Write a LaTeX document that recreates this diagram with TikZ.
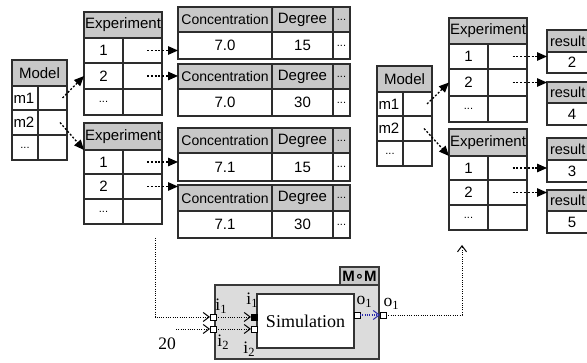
\documentclass[tikz,border=0pt]{standalone}
\usepackage{fontspec}
\setmainfont{Liberation Serif}
\newfontfamily\tsans{Liberation Sans}
\newfontfamily\dvs{DejaVu Sans}
\usetikzlibrary{arrows.meta}
\definecolor{hdr}{RGB}{200,200,200}
\definecolor{lineC}{RGB}{45,45,45}
\definecolor{momfill}{RGB}{220,220,220}
\definecolor{portblue}{RGB}{40,40,170}
\newcommand\Rect[7]{\node[#6, minimum width={#4pt-#2pt}, minimum height={#5pt-#3pt}] (#1) at (#2,#3) {#7};}
\newcommand\sbs[2]{#1\raisebox{-0.35ex}{\fontsize{12.5}{12.5}\selectfont #2}}
\begin{document}
\begin{tikzpicture}[x=1pt,y=-1pt,
  box/.style={anchor=north west, inner sep=0pt, outer sep=0pt},
  cell/.style={box, draw=lineC, line width=1.1pt, fill=white, font=\tsans\fontsize{15}{15}\selectfont},
  hd/.style={fill=hdr},
  lt/.style={text width=23pt, align=left},
  rt/.style={text width=44pt, align=left, font=\tsans\fontsize{14.5}{15}\selectfont},
  darr/.style={draw=black, line width=1.3pt, dash pattern=on 2pt off 1.8pt, -{Triangle[length=10pt,width=8.5pt]}},
  oarr/.style={draw=black, line width=0.9pt, dash pattern=on 1pt off 1.3pt, -{Straight Barb[length=6pt,width=9pt,line width=1pt]}},
  port/.style={draw=black, fill=white, line width=0.8pt, minimum size=6pt, inner sep=0pt, outer sep=0pt},
  lbl/.style={font=\fontsize{17.5}{17.5}\selectfont, inner sep=0pt},
]
\clip (0,0) rectangle (587,363);
\fill[white] (0,0) rectangle (587,363);

% ---- left model table
\Rect{LMh}{12}{60}{67}{86}{cell,hd}{Model}
\Rect{LM1a}{12}{86}{38}{110}{cell,lt}{m1}
\Rect{LM1b}{38}{86}{67}{110}{cell}{}
\Rect{LM2a}{12}{110}{38}{135}{cell,lt}{m2}
\Rect{LM2b}{38}{110}{67}{135}{cell}{}
\Rect{LM3a}{12}{135}{38}{160}{cell,font=\tsans\fontsize{11}{11}\selectfont}{...}
\Rect{LM3b}{38}{135}{67}{160}{cell}{}

% ---- right model table
\Rect{RMh}{377}{66}{432}{92}{cell,hd}{Model}
\Rect{RM1a}{377}{92}{403}{116}{cell,lt}{m1}
\Rect{RM1b}{403}{92}{432}{116}{cell}{}
\Rect{RM2a}{377}{116}{403}{141}{cell,lt}{m2}
\Rect{RM2b}{403}{116}{432}{141}{cell}{}
\Rect{RM3a}{377}{141}{403}{166}{cell,font=\tsans\fontsize{11}{11}\selectfont}{...}
\Rect{RM3b}{403}{141}{432}{166}{cell}{}

% ---- experiment tables
\foreach \nm/\xa/\xb/\xc/\ya/\yb/\yc/\yd/\ye in
  {E1/84/123/162/12/38/63/89/115, E2/84/123/162/123/150/174/199/224,
   RE1/449/488/527/18/44/69/96/122, RE2/449/488/527/129/156/180/205/230}{
  \Rect{\nm h}{\xa}{\ya}{\xc}{\yb}{cell,hd}{Experiment}
  \Rect{\nm r1a}{\xa}{\yb}{\xb}{\yc}{cell}{1}
  \Rect{\nm r1b}{\xb}{\yb}{\xc}{\yc}{cell}{}
  \Rect{\nm r2a}{\xa}{\yc}{\xb}{\yd}{cell}{2}
  \Rect{\nm r2b}{\xb}{\yc}{\xc}{\yd}{cell}{}
  \Rect{\nm r3a}{\xa}{\yd}{\xb}{\ye}{cell,font=\tsans\fontsize{11}{11}\selectfont}{...}
  \Rect{\nm r3b}{\xb}{\yd}{\xc}{\ye}{cell}{}
}

% ---- concentration tables
\foreach \n/\ya/\yb/\yc/\cv/\dv in
  {1/7/32/59/7.0/15, 2/64/89/116/7.0/30, 3/128/153/181/7.1/15, 4/185/211/238/7.1/30}{
  \Rect{C\n ha}{178}{\ya}{272}{\yb}{cell,hd,font=\tsans\fontsize{14}{14}\selectfont}{Concentration}
  \Rect{C\n hb}{272}{\ya}{333}{\yb}{cell,hd}{Degree}
  \Rect{C\n hc}{333}{\ya}{350}{\yb}{cell,hd,font=\tsans\fontsize{11}{11}\selectfont}{...}
  \Rect{C\n va}{178}{\yb}{272}{\yc}{cell}{\cv}
  \Rect{C\n vb}{272}{\yb}{333}{\yc}{cell}{\dv}
  \Rect{C\n vc}{333}{\yb}{350}{\yc}{cell,font=\tsans\fontsize{11}{11}\selectfont}{...}
}

% ---- result tables
\foreach \n/\ya/\yb/\yc/\rv in {1/30/52/73/2, 2/82/103/125/4, 3/138/160/182/3, 4/190/211/233/5}{
  \Rect{R\n h}{547}{\ya}{597}{\yb}{cell,hd,rt}{result}
  \Rect{R\n v}{547}{\yb}{597}{\yc}{cell}{\rv}
}

% ---- model -> experiment arrows
\draw[darr] ([xshift=10pt]LM1b.center) -- (E1r2a.west);
\draw[darr] ([xshift=7.5pt]LM2b.center) -- (E2h.south west);
\draw[darr] ([xshift=9.5pt]RM1b.center) -- (RE1r2a.west);
\draw[darr] ([xshift=6.5pt]RM2b.center) -- (RE2h.south west);

% ---- experiment -> concentration / result arrows
\draw[darr] ([xshift=4.5pt]E1r1b.center) -- (E1r1b.center -| C1va.west);
\draw[darr] ([xshift=4.5pt]E1r2b.center) -- (E1r2b.center -| C2ha.west);
\draw[darr] ([xshift=4.5pt]E2r1b.center) -- (E2r1b.center -| C3va.west);
\draw[darr] ([xshift=4.5pt]E2r2b.center) -- (E2r2b.center -| C4ha.west);
\draw[darr] ([xshift=5pt]RE1r1b.center) -- (RE1r1b.center -| R1h.west);
\draw[darr] ([xshift=5pt]RE1r2b.center) -- (RE1r2b.center -| R2h.west);
\draw[darr] ([xshift=5pt]RE2r1b.center) -- (RE2r1b.center -| R3h.west);
\draw[darr] ([xshift=5pt]RE2r2b.center) -- (RE2r2b.center -| R4h.west);

% ---- M o M component
\Rect{mom}{215}{285}{379}{359}{box, draw=gray!45!black, fill=momfill, line width=1.2pt}{}
\Rect{momlbl}{340}{267}{379}{285}{box, draw=gray!45!black, fill=hdr, line width=1.2pt, font=\tsans\bfseries\fontsize{15}{15}\selectfont}{M{\dvs\bfseries ∘}M}
\Rect{sim}{257}{294}{354}{348}{box, draw=gray!40!black, fill=white, line width=1.4pt, font=\fontsize{18}{18}\selectfont}{Simulation}

\node[port] (pi1) at (213,317) {};
\node[port] (pi2) at (213,329) {};
\node[port, fill=black] (qi1) at (254,317) {};
\node[port] (qi2) at (254,329) {};
\node[port] (qo1) at (357,315) {};
\node[port] (po1) at (383,315) {};

\node[lbl] (li1o) at (221,306) {\sbs{i}{1}};
\node[lbl] (li2o) at (223,342) {\sbs{i}{2}};
\node[lbl] (li1i) at (252,300) {\sbs{i}{1}};
\node[lbl] (li2i) at (249,349) {\sbs{i}{2}};
\node[lbl] (lo1i) at (364,302) {\sbs{o}{1}};
\node[lbl] (lo1o) at (391,304) {\sbs{o}{1}};
\node[lbl] (n20) at (167,344) {20};

\coordinate (vtop) at (155,238);
\coordinate (c20) at (176,329);
\coordinate (vend) at (462,245);

\draw[oarr] (vtop) |- (pi1.west);
\draw[oarr] (pi1.east) -- (qi1.west);
\draw[oarr] (c20) -- (pi2.west);
\draw[oarr] (pi2.east) -- (qi2.west);
\draw[oarr, draw=portblue, line width=1.2pt] (qo1.east) -- (po1.west);
\draw[oarr] (po1.east) -| (vend);
\end{tikzpicture}
\end{document}
